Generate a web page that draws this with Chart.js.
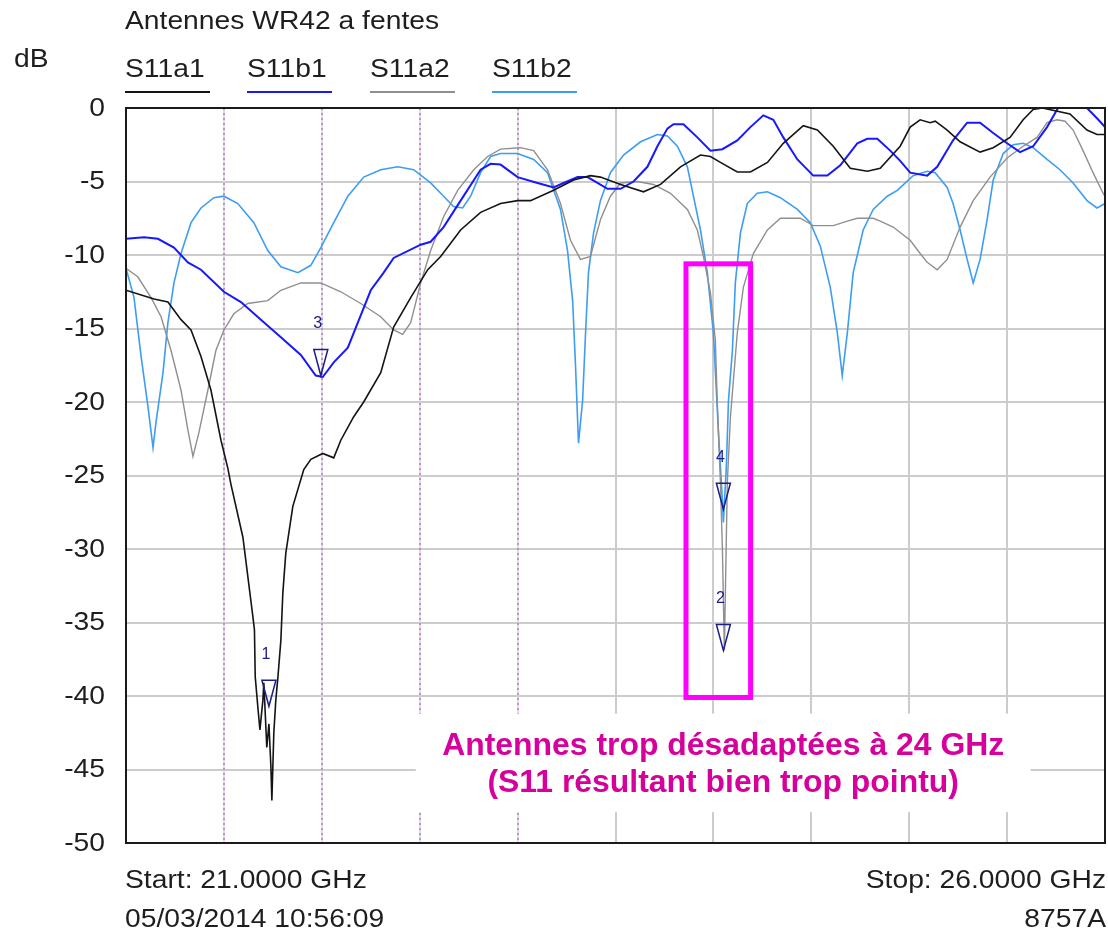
<!DOCTYPE html>
<html>
<head>
<meta charset="utf-8">
<script src="https://cdn.jsdelivr.net/npm/chart.js@4.4.1/dist/chart.umd.min.js"></script>
<style>
  html, body { margin: 0; padding: 0; background: #fff; }
  #wrap { width: 1108px; height: 936px; position: relative; }
</style>
</head>
<body>
<div id="wrap"><canvas id="s11Chart"></canvas></div>
<script>
// frequency axis (GHz) and S11 levels (dB)
const fStart = 21;
const fStop = 26;

const freqA1 = [21.000, 21.143, 21.214, 21.281, 21.332, 21.383, 21.434, 21.485, 21.520, 21.536, 21.597, 21.648, 21.656, 21.660, 21.673, 21.684, 21.699, 21.704, 21.719, 21.730, 21.740, 21.745, 21.755, 21.765, 21.776, 21.791, 21.801, 21.816, 21.852, 21.908, 21.944, 22.005, 22.061, 22.097, 22.163, 22.214, 22.301, 22.367, 22.454, 22.541, 22.607, 22.709, 22.811, 22.913, 23.000, 23.066, 23.184, 23.286, 23.372, 23.423, 23.526, 23.643, 23.730, 23.832, 23.934, 23.985, 24.036, 24.122, 24.189, 24.276, 24.357, 24.459, 24.531, 24.612, 24.699, 24.786, 24.852, 24.954, 25.005, 25.056, 25.107, 25.133, 25.194, 25.260, 25.362, 25.429, 25.515, 25.582, 25.633, 25.680, 25.821, 25.908, 25.959, 26.000];
const dbA1 = [-12.4, -13.0, -13.2, -14.4, -15.1, -16.9, -19.2, -22.6, -24.5, -25.6, -29.2, -34.6, -35.5, -38.7, -40.7, -42.3, -40.3, -39.1, -43.5, -41.9, -44.8, -47.1, -42.5, -40.3, -38.7, -36.2, -33.0, -30.3, -27.1, -24.6, -23.9, -23.5, -23.8, -22.6, -21.0, -20.0, -18.0, -14.9, -12.9, -11.0, -10.1, -8.3, -7.1, -6.5, -6.3, -6.3, -5.6, -4.9, -4.6, -4.7, -5.2, -5.7, -5.2, -4.0, -3.2, -3.3, -3.7, -4.35, -4.35, -3.7, -2.4, -1.2, -1.5, -2.6, -4.1, -4.3, -4.1, -2.6, -1.3, -0.8, -1.0, -0.9, -1.5, -2.3, -3.0, -2.7, -2.0, -0.8, -0.1, 0, -0.4, -1.5, -1.8, -1.8];

const freqB1 = [21.000, 21.092, 21.163, 21.245, 21.316, 21.383, 21.500, 21.587, 21.689, 21.791, 21.893, 21.969, 22.005, 22.061, 22.133, 22.184, 22.250, 22.316, 22.367, 22.505, 22.556, 22.622, 22.709, 22.811, 22.862, 22.913, 23.000, 23.102, 23.184, 23.235, 23.306, 23.357, 23.408, 23.459, 23.526, 23.592, 23.663, 23.714, 23.765, 23.796, 23.847, 23.918, 23.985, 24.046, 24.122, 24.189, 24.255, 24.306, 24.357, 24.429, 24.510, 24.582, 24.648, 24.735, 24.786, 24.837, 24.903, 24.954, 25.005, 25.092, 25.143, 25.224, 25.296, 25.362, 25.429, 25.500, 25.566, 25.633, 25.704, 25.760, 25.908, 25.959, 26.000];
const dbB1 = [-8.9, -8.8, -8.9, -9.5, -10.5, -11.0, -12.5, -13.2, -14.4, -15.6, -16.8, -18.2, -18.3, -17.3, -16.3, -14.6, -12.4, -11.2, -10.2, -9.3, -9.1, -8.1, -6.3, -4.2, -3.8, -3.85, -4.7, -5.1, -5.4, -5.1, -4.7, -4.7, -5.1, -5.5, -5.5, -5.0, -4.0, -2.6, -1.4, -1.1, -1.1, -2.0, -2.9, -2.8, -2.2, -1.3, -0.5, -0.8, -2.0, -3.5, -4.6, -4.6, -3.9, -2.4, -2.1, -2.1, -2.9, -3.6, -4.4, -4.6, -4.0, -2.2, -1.0, -1.0, -1.7, -2.4, -3.0, -2.6, -1.3, 0, 0, -0.7, -1.3];

const freqA2 = [21.000, 21.061, 21.128, 21.179, 21.230, 21.281, 21.316, 21.342, 21.372, 21.418, 21.459, 21.500, 21.551, 21.622, 21.724, 21.791, 21.893, 21.995, 22.097, 22.199, 22.301, 22.367, 22.413, 22.454, 22.505, 22.556, 22.622, 22.694, 22.776, 22.847, 22.913, 23.015, 23.082, 23.153, 23.219, 23.270, 23.321, 23.372, 23.423, 23.474, 23.526, 23.612, 23.694, 23.781, 23.867, 23.918, 23.949, 23.985, 24.010, 24.020, 24.036, 24.046, 24.056, 24.071, 24.087, 24.122, 24.153, 24.204, 24.276, 24.342, 24.444, 24.510, 24.612, 24.684, 24.735, 24.816, 24.852, 24.918, 25.005, 25.056, 25.092, 25.143, 25.194, 25.260, 25.327, 25.413, 25.500, 25.582, 25.653, 25.704, 25.755, 25.796, 25.837, 25.888, 25.939, 25.990, 26.000];
const dbA2 = [-10.9, -11.5, -12.9, -14.2, -16.5, -19.2, -21.9, -23.7, -22.1, -19.2, -16.5, -15.1, -14.0, -13.3, -13.1, -12.4, -11.9, -11.9, -12.5, -13.3, -14.2, -15.1, -15.4, -14.6, -11.9, -9.7, -7.4, -5.6, -4.2, -3.3, -2.8, -2.7, -2.9, -4.2, -6.5, -9.0, -10.3, -10.1, -7.6, -6.0, -5.1, -5.0, -5.2, -5.8, -6.9, -8.3, -10.1, -12.6, -15.8, -20.1, -25.5, -30.0, -36.9, -25.5, -21.0, -15.3, -12.2, -9.9, -8.3, -7.5, -7.5, -8.0, -8.0, -7.7, -7.5, -7.5, -7.7, -8.1, -9.0, -9.9, -10.5, -11.0, -10.3, -8.1, -6.3, -4.7, -3.4, -2.6, -2.0, -1.0, -0.8, -0.9, -1.5, -2.9, -4.4, -5.8, -6.0];

const freqB2 = [21.000, 21.041, 21.077, 21.112, 21.138, 21.153, 21.189, 21.214, 21.245, 21.281, 21.332, 21.383, 21.449, 21.500, 21.571, 21.653, 21.724, 21.791, 21.878, 21.944, 21.995, 22.061, 22.133, 22.214, 22.301, 22.388, 22.469, 22.556, 22.622, 22.673, 22.719, 22.760, 22.811, 22.862, 22.913, 23.000, 23.082, 23.153, 23.219, 23.255, 23.281, 23.296, 23.311, 23.332, 23.347, 23.362, 23.388, 23.423, 23.474, 23.541, 23.628, 23.714, 23.765, 23.816, 23.867, 23.898, 23.934, 23.969, 24.000, 24.026, 24.046, 24.051, 24.066, 24.077, 24.097, 24.112, 24.138, 24.173, 24.224, 24.276, 24.342, 24.429, 24.495, 24.546, 24.597, 24.633, 24.658, 24.684, 24.714, 24.765, 24.816, 24.888, 24.939, 25.020, 25.092, 25.133, 25.194, 25.224, 25.260, 25.296, 25.327, 25.362, 25.398, 25.429, 25.480, 25.531, 25.582, 25.633, 25.704, 25.770, 25.837, 25.908, 25.959, 26.000];
const dbB2 = [-10.9, -12.9, -16.9, -20.3, -23.1, -21.4, -18.0, -14.6, -11.9, -9.9, -7.8, -6.8, -6.1, -6.0, -6.5, -7.8, -9.7, -10.8, -11.2, -10.7, -9.5, -7.8, -6.0, -4.7, -4.2, -4.0, -4.2, -5.1, -6.0, -6.7, -6.8, -6.0, -4.4, -3.3, -3.1, -3.1, -3.5, -4.4, -6.9, -9.7, -13.1, -17.6, -22.8, -19.9, -15.3, -11.2, -8.5, -6.3, -4.4, -3.2, -2.3, -1.8, -1.9, -2.6, -4.0, -6.0, -8.3, -11.2, -15.3, -22.1, -26.7, -28.2, -24.4, -19.9, -16.5, -11.9, -8.5, -6.5, -5.8, -5.7, -6.1, -6.9, -7.8, -9.4, -12.2, -15.3, -18.2, -15.3, -11.2, -8.3, -6.9, -6.0, -5.6, -4.6, -4.3, -4.4, -5.4, -6.5, -8.3, -10.3, -11.9, -10.3, -7.6, -4.9, -3.1, -2.5, -2.4, -2.7, -3.5, -4.2, -5.1, -6.3, -6.8, -6.5];

const traceNames = ["S11a1", "S11b1", "S11a2", "S11b2"];

// markers: frequency, level, label
const markerFreq = [21.730, 24.051, 21.995, 24.051];
const markerDb = [-40.7, -36.9, -18.2, -27.3];
const markerNames = ["1", "2", "3", "4"];

const yTickValues = [0, -5, -10, -15, -20, -25, -30, -35, -40, -45, -50];

// highlighted zone and note box (in GHz / dB)
const zoneFreq = [23.86, 24.19];
const zoneDb = [-10.6, -40.1];
const noteFreq = [22.48, 25.62];
const noteDb = [-41.2, -47.9];
const noteLines = ["Antennes trop désadaptées à 24 GHz", "(S11 résultant bien trop pointu)"];

const titleText = "Antennes WR42 a fentes";
const unitText = "dB";
const startText = "Start: 21.0000 GHz";
const stopText = "Stop: 26.0000 GHz";
const dateText = "05/03/2014 10:56:09";
const modelText = "8757A";

const FONT = '"Liberation Sans", Arial, sans-serif';
const STRETCH = 1.13; // the analyser font is a bit wider than Arial

function toPoints(freqs, vals) {
  return freqs.map((f, i) => ({ x: f, y: vals[i] }));
}

// text drawn with a horizontal stretch, align is left / right / center
function wideText(ctx, text, x, y, align) {
  ctx.save();
  ctx.translate(x, y);
  ctx.scale(STRETCH, 1);
  ctx.textAlign = align;
  ctx.fillText(text, 0, 0);
  ctx.restore();
}

const decorPlugin = {
  id: "decor",
  beforeDatasetsDraw(chart) {
    const { ctx, chartArea: a, scales: { x, y } } = chart;
    ctx.save();
    // vertical grid, first four lines are dotted purple like on the analyser
    x.ticks.forEach((t) => {
      if (t.value <= fStart || t.value >= fStop) return;
      const px = Math.round(x.getPixelForValue(t.value));
      ctx.beginPath();
      if (t.value <= 23) {
        ctx.strokeStyle = "#d8d0dc";
        ctx.lineWidth = 1.5;
        ctx.setLineDash([]);
        ctx.moveTo(px, a.top);
        ctx.lineTo(px, a.bottom);
        ctx.stroke();
        ctx.beginPath();
        ctx.strokeStyle = "#b07cc0";
        ctx.lineWidth = 1.5;
        ctx.setLineDash([2, 3]);
      } else {
        ctx.strokeStyle = "#cccccc";
        ctx.lineWidth = 2;
        ctx.setLineDash([]);
      }
      ctx.moveTo(px, a.top);
      ctx.lineTo(px, a.bottom);
      ctx.stroke();
    });
    ctx.setLineDash([]);
    // white box behind the note
    const nx0 = x.getPixelForValue(noteFreq[0]);
    const nx1 = x.getPixelForValue(noteFreq[1]);
    const ny0 = y.getPixelForValue(noteDb[0]);
    const ny1 = y.getPixelForValue(noteDb[1]);
    ctx.fillStyle = "#ffffff";
    ctx.fillRect(nx0, ny0, nx1 - nx0, ny1 - ny0);
    ctx.restore();
  },
  afterDatasetsDraw(chart) {
    const { ctx, chartArea: a, scales: { x, y } } = chart;
    ctx.save();
    // frame
    ctx.strokeStyle = "#1a1a1a";
    ctx.lineWidth = 2;
    ctx.strokeRect(a.left, a.top, a.right - a.left, a.bottom - a.top);

    // markers
    ctx.strokeStyle = "#1c1c8c";
    ctx.fillStyle = "#1c1c8c";
    ctx.lineWidth = 1.5;
    ctx.font = "16px " + FONT;
    ctx.textAlign = "center";
    ctx.textBaseline = "middle";
    markerFreq.forEach((f, i) => {
      const px = x.getPixelForValue(f);
      const py = y.getPixelForValue(markerDb[i]);
      ctx.beginPath();
      ctx.moveTo(px - 7, py - 26);
      ctx.lineTo(px + 7, py - 26);
      ctx.lineTo(px, py);
      ctx.closePath();
      ctx.stroke();
      ctx.fillText(markerNames[i], px - 3, py - 52);
    });

    // magenta zone
    const zx0 = x.getPixelForValue(zoneFreq[0]);
    const zx1 = x.getPixelForValue(zoneFreq[1]);
    const zy0 = y.getPixelForValue(zoneDb[0]);
    const zy1 = y.getPixelForValue(zoneDb[1]);
    ctx.strokeStyle = "#ff00ff";
    ctx.lineWidth = 5;
    ctx.strokeRect(zx0, zy0, zx1 - zx0, zy1 - zy0);

    // note
    const nx0 = x.getPixelForValue(noteFreq[0]);
    const nx1 = x.getPixelForValue(noteFreq[1]);
    const cx = (nx0 + nx1) / 2;
    ctx.font = "bold 31px " + FONT;
    ctx.fillStyle = "#d6009c";
    const w0 = ctx.measureText(noteLines[0]).width;
    const sx = 562 / w0;
    noteLines.forEach((line, i) => {
      ctx.save();
      ctx.translate(cx, 746 + i * 37);
      ctx.scale(sx, 1);
      ctx.fillText(line, 0, 0);
      ctx.restore();
    });
    ctx.restore();
  },
  afterDraw(chart) {
    const { ctx, chartArea: a, scales: { y } } = chart;
    ctx.save();
    ctx.fillStyle = "#1e1e1e";
    ctx.textBaseline = "middle";
    ctx.font = "25px " + FONT;
    wideText(ctx, titleText, a.left - 1, 22, "left");
    wideText(ctx, unitText, 14, 60, "left");
    wideText(ctx, startText, a.left - 1, 881, "left");
    wideText(ctx, dateText, a.left - 1, 920, "left");
    wideText(ctx, stopText, a.right + 1, 881, "right");
    wideText(ctx, modelText, a.right + 1, 920, "right");

    // y tick labels
    yTickValues.forEach((v) => {
      wideText(ctx, String(v), a.left - 21, y.getPixelForValue(v) + 1, "right");
    });

    // legend with underline in trace colour
    const legendX = [125, 247, 370, 492];
    chart.data.datasets.forEach((ds, i) => {
      ctx.fillStyle = "#1e1e1e";
      wideText(ctx, ds.label, legendX[i], 70, "left");
      ctx.strokeStyle = ds.borderColor;
      ctx.lineWidth = 2;
      ctx.beginPath();
      ctx.moveTo(legendX[i], 92);
      ctx.lineTo(legendX[i] + 85, 92);
      ctx.stroke();
    });
    ctx.restore();
  },
};

const ctx = document.getElementById("s11Chart");

new Chart(ctx, {
  type: "line",
  data: {
    datasets: [
      { label: traceNames[0], data: toPoints(freqA1, dbA1), borderColor: "#141414", borderWidth: 1.6 },
      { label: traceNames[1], data: toPoints(freqB1, dbB1), borderColor: "#1818ff", borderWidth: 2 },
      { label: traceNames[2], data: toPoints(freqA2, dbA2), borderColor: "#8f8f8f", borderWidth: 1.4 },
      { label: traceNames[3], data: toPoints(freqB2, dbB2), borderColor: "#3d9df2", borderWidth: 1.6 },
    ],
  },
  options: {
    responsive: true,
    maintainAspectRatio: false,
    animation: false,
    layout: { padding: { top: 108, right: 3, bottom: 93, left: 0 } },
    elements: { point: { radius: 0 }, line: { tension: 0 } },
    plugins: { legend: { display: false }, tooltip: { enabled: false } },
    scales: {
      x: {
        type: "linear",
        min: fStart,
        max: fStop,
        ticks: { display: false, stepSize: 0.5 },
        grid: { display: false, drawTicks: false },
        border: { display: false },
        afterFit(scale) { scale.height = 0; },
      },
      y: {
        min: -50,
        max: 0,
        afterBuildTicks(scale) { scale.ticks = yTickValues.map((v) => ({ value: v })); },
        ticks: { display: false },
        grid: { color: "#cccccc", lineWidth: 2, drawTicks: false },
        border: { display: false },
        afterFit(scale) { scale.width = 126; },
      },
    },
  },
  plugins: [decorPlugin],
});
</script>
</body>
</html>
